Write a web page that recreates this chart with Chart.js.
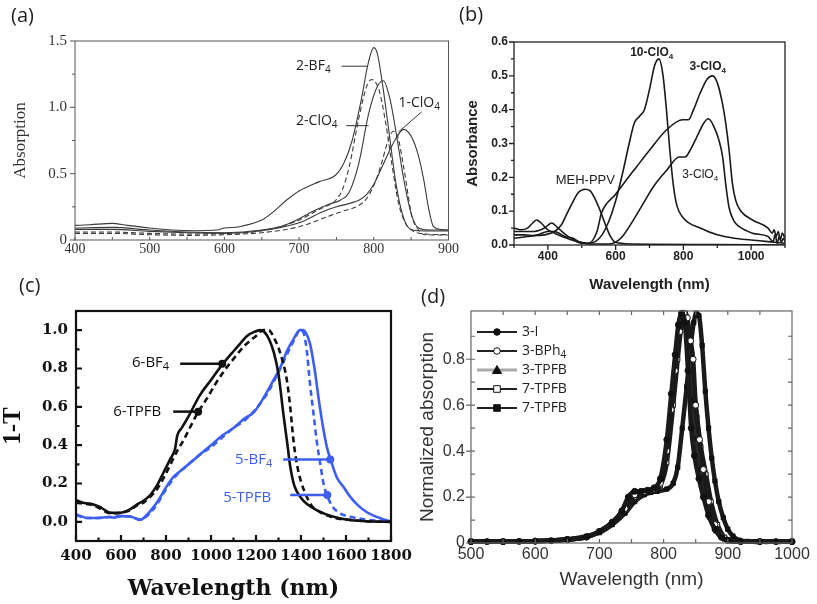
<!DOCTYPE html>
<html><head><meta charset="utf-8">
<script src="https://cdn.jsdelivr.net/npm/chart.js@4.4.0/dist/chart.umd.min.js"></script>
<style>
html,body{margin:0;padding:0;background:#fff;}
body{width:817px;height:604px;position:relative;overflow:hidden;}
canvas{position:absolute;}
.lbl{position:absolute;font-family:"Open Sans",sans-serif;font-size:20px;color:#222;line-height:1;}
</style></head><body>
<canvas id="ca" width="460" height="275" style="left:0;top:0"></canvas>
<canvas id="cb" width="357" height="300" style="left:460px;top:0"></canvas>
<canvas id="cc" width="420" height="324" style="left:0;top:280px"></canvas>
<canvas id="cd" width="407" height="324" style="left:410px;top:280px"></canvas>
<div class="lbl" style="left:11px;top:5px">(a)</div>
<div class="lbl" style="left:459px;top:4px">(b)</div>
<div class="lbl" style="left:19px;top:275px">(c)</div>
<div class="lbl" style="left:421px;top:286px">(d)</div>
<script>
// ---------------- Panel (a) data ----------------
const aXTicks = [400,500,600,700,800,900];
const aYTicks = [0,0.5,1.0,1.5];
const aYTickLabels = ['0','0.5','1.0','1.5'];
const a_BF4_x = [400,420,450,470,500,530,560,590,600,620,650,665,683,700,727,749,760,771,784,792,800,805,811,820,829,838,847,860,880,900];
const a_BF4_y = [0.11,0.115,0.125,0.11,0.09,0.075,0.07,0.075,0.09,0.10,0.15,0.21,0.30,0.37,0.44,0.49,0.58,0.75,1.08,1.32,1.45,1.40,1.20,0.83,0.45,0.20,0.09,0.07,0.068,0.068];
const a_dash1_x = [400,450,500,550,600,650,700,730,745,752,758,767,780,790,797,807,816,824,833,842,852,870,900];
const a_dash1_y = [0.06,0.06,0.05,0.045,0.05,0.07,0.15,0.24,0.28,0.32,0.38,0.55,0.92,1.15,1.21,1.13,0.88,0.58,0.28,0.13,0.07,0.045,0.04];
const a_ClO4_x = [400,450,500,550,600,650,680,700,720,740,755,767,780,793,805,813,820,824,833,842,851,860,875,900];
const a_ClO4_y = [0.09,0.095,0.075,0.06,0.055,0.075,0.11,0.16,0.22,0.27,0.30,0.36,0.58,0.95,1.16,1.2,1.1,1.0,0.70,0.40,0.18,0.09,0.075,0.075];
const a_dash2_x = [400,450,500,550,600,650,700,740,760,780,790,800,810,818,826,832,840,851,860,868,880,900];
const a_dash2_y = [0.05,0.05,0.04,0.035,0.04,0.055,0.10,0.18,0.22,0.26,0.31,0.41,0.57,0.73,0.82,0.78,0.55,0.18,0.075,0.04,0.038,0.038];
const a_1ClO4_x = [400,450,500,550,600,650,700,730,750,770,780,790,800,811,820,829,840,848,855,860,867,873,880,891,900];
const a_1ClO4_y = [0.08,0.08,0.065,0.055,0.05,0.07,0.13,0.21,0.25,0.28,0.30,0.34,0.42,0.55,0.66,0.76,0.834,0.80,0.72,0.63,0.45,0.25,0.10,0.078,0.075];

// ---------------- Panel (b) data ----------------
const bXTicks = [400,600,800,1000];
const bYTicks = [0,0.1,0.2,0.3,0.4,0.5,0.6];
const bYTickLabels = ['0.0','0.1','0.2','0.3','0.4','0.5','0.6'];
const b_MEH_x = [300,330,360,390,420,440,455,470,490,510,525,540,555,570,585,600,650,700,900,1100];
const b_MEH_y = [0.03,0.03,0.028,0.03,0.04,0.06,0.09,0.12,0.155,0.165,0.16,0.135,0.10,0.06,0.025,0.008,0.003,0.002,0.001,0.0];
const b_10ClO4_x = [300,320,340,355,367,380,400,420,450,480,500,520,540,560,580,600,620,640,655,670,685,700,715,728,740,750,760,770,780,800,850,900,950,1000,1050,1100];
const b_10ClO4_y = [0.05,0.045,0.05,0.065,0.074,0.065,0.045,0.035,0.022,0.012,0.005,0.005,0.01,0.03,0.07,0.13,0.21,0.30,0.36,0.38,0.40,0.46,0.53,0.55,0.50,0.40,0.28,0.18,0.12,0.08,0.05,0.03,0.02,0.015,0.01,0.005];
const b_3ClO4a_x = [300,330,360,390,411,430,460,490,520,545,558,600,630,661,700,750,798,815,830,850,870,886,900,915,925,935,945,955,970,1004,1050,1062,1068,1074,1080,1086,1092,1100];
const b_3ClO4a_y = [0.04,0.04,0.04,0.05,0.065,0.05,0.025,0.01,0.005,0.04,0.094,0.15,0.19,0.23,0.28,0.34,0.37,0.37,0.40,0.45,0.49,0.50,0.48,0.42,0.36,0.28,0.18,0.13,0.10,0.074,0.05,0.035,0.045,0.025,0.04,0.015,0.035,0.02];
const b_3ClO4b_x = [300,340,370,400,420,450,475,490,520,580,600,620,650,680,710,750,788,805,820,840,860,874,890,905,916,925,935,950,965,1004,1050,1065,1071,1077,1083,1089,1095,1100];
const b_3ClO4b_y = [0.02,0.025,0.03,0.04,0.04,0.025,0.02,0.01,0.003,0.003,0.008,0.025,0.07,0.12,0.17,0.22,0.26,0.26,0.28,0.32,0.36,0.373,0.35,0.31,0.26,0.18,0.11,0.07,0.054,0.035,0.025,0.01,0.03,0.005,0.025,0.008,0.02,0.01];

// ---------------- Panel (c) data ----------------
const cXTicks = [400,600,800,1000,1200,1400,1600,1800];
const cYTicks = [0,0.2,0.4,0.6,0.8,1.0];
const cYTickLabels = ['0.0','0.2','0.4','0.6','0.8','1.0'];
const c_6BF4_x = [400,430,460,490,510,530,550,580,610,640,670,700,730,760,790,820,840,850,870,900,950,1000,1050,1100,1130,1160,1190,1219,1250,1280,1300,1322,1340,1352,1370,1397,1430,1471,1545,1600,1693,1800];
const c_6BF4_y = [0.113,0.10,0.095,0.085,0.075,0.06,0.048,0.047,0.05,0.065,0.09,0.11,0.14,0.19,0.26,0.33,0.38,0.45,0.49,0.55,0.66,0.74,0.82,0.89,0.93,0.97,0.99,1.0,0.97,0.88,0.77,0.56,0.40,0.29,0.19,0.13,0.09,0.06,0.026,0.012,0.003,0.0];
const c_6TPFB_x = [400,430,460,490,520,550,580,610,640,670,700,730,760,790,820,850,880,910,944,980,1020,1060,1100,1150,1200,1233,1256,1280,1308,1337,1352,1367,1382,1400,1426,1450,1486,1550,1619,1700,1800];
const c_6TPFB_y = [0.10,0.095,0.09,0.08,0.06,0.045,0.045,0.05,0.06,0.085,0.10,0.13,0.17,0.23,0.30,0.37,0.43,0.50,0.575,0.64,0.72,0.79,0.85,0.92,0.97,1.0,1.0,0.96,0.88,0.74,0.60,0.42,0.30,0.21,0.13,0.08,0.05,0.02,0.01,0.002,0.0];
const c_5BF4_x = [400,420,450,500,540,570,600,640,660,685,710,740,770,800,830,848,880,920,960,1000,1050,1100,1150,1189,1230,1278,1310,1337,1370,1395,1410,1420,1440,1460,1480,1500,1515,1530,1560,1590,1619,1650,1693,1750,1800];
const c_5BF4_y = [0.04,0.03,0.02,0.02,0.025,0.022,0.03,0.028,0.02,0.01,0.03,0.07,0.12,0.18,0.23,0.25,0.28,0.32,0.36,0.40,0.45,0.49,0.54,0.57,0.64,0.74,0.81,0.89,0.96,1.0,1.0,0.99,0.93,0.80,0.63,0.48,0.39,0.33,0.23,0.18,0.13,0.09,0.05,0.02,0.0];
const c_5TPFB_x = [400,450,500,550,600,640,685,710,740,770,800,830,860,900,950,1000,1050,1100,1150,1200,1250,1300,1340,1370,1395,1410,1425,1440,1456,1470,1486,1500,1515,1540,1580,1619,1700,1800];
const c_5TPFB_y = [0.035,0.02,0.02,0.025,0.03,0.028,0.012,0.025,0.06,0.11,0.17,0.22,0.26,0.30,0.35,0.39,0.44,0.49,0.53,0.59,0.67,0.78,0.88,0.95,1.0,0.99,0.90,0.72,0.56,0.42,0.30,0.20,0.14,0.08,0.04,0.026,0.01,0.0];

// ---------------- Panel (d) data ----------------
const dXTicks = [500,600,700,800,900,1000];
const dYTicks = [0,0.2,0.4,0.6,0.8];
const dYTickLabels = ['0','0.2','0.4','0.6','0.8'];
const dNames = ['3-I','3-BPh_4','3-TPFB','7-TPFB','7-TPFB'];
const d_3I_x = [500,525,550,575,600,625,650,680,700,720,735,745,755,765,775,785,795,805,812,818,823,828,833,838,843,848,855,862,870,880,890,900,920,950,975,1000];
const d_3I_y = [0.006,0.006,0.006,0.007,0.008,0.01,0.015,0.026,0.05,0.09,0.14,0.20,0.225,0.225,0.23,0.24,0.28,0.45,0.65,0.82,0.95,1.0,0.96,0.75,0.50,0.38,0.28,0.20,0.12,0.06,0.025,0.012,0.007,0.006,0.006,0.006];
const d_3BPh4_x = [500,550,600,650,680,700,720,740,755,770,785,795,805,812,818,825,832,837,842,846,850,856,862,870,880,890,900,920,950,1000];
const d_3BPh4_y = [0.006,0.006,0.008,0.015,0.026,0.05,0.09,0.15,0.21,0.225,0.235,0.26,0.40,0.58,0.75,0.92,1.0,0.98,0.88,0.80,0.60,0.45,0.32,0.18,0.08,0.03,0.012,0.006,0.006,0.006];
const d_3TPFB_x = [500,550,600,650,680,700,720,740,755,770,785,795,805,812,820,826,830,835,840,845,850,856,864,872,882,895,920,950,1000];
const d_3TPFB_y = [0.006,0.006,0.008,0.015,0.026,0.05,0.09,0.15,0.21,0.225,0.235,0.27,0.42,0.60,0.85,0.98,1.0,0.95,0.80,0.62,0.45,0.32,0.20,0.11,0.05,0.015,0.006,0.006,0.006];
const d_7TPFBo_x = [500,550,600,650,680,700,720,740,755,770,785,795,805,815,822,828,834,840,846,852,858,866,874,884,895,910,950,1000];
const d_7TPFBo_y = [0.006,0.006,0.008,0.015,0.027,0.05,0.088,0.145,0.20,0.22,0.23,0.25,0.35,0.60,0.80,0.95,1.0,0.90,0.70,0.55,0.42,0.30,0.18,0.08,0.025,0.008,0.006,0.006];
const d_7TPFBf_x = [500,525,550,575,600,625,650,680,700,720,740,755,770,780,790,805,815,822,829,836,842,847,851,855,860,865,870,875,880,886,893,900,908,918,930,945,960,980,1000];
const d_7TPFBf_y = [0.006,0.006,0.006,0.007,0.008,0.011,0.016,0.03,0.045,0.08,0.13,0.18,0.21,0.22,0.225,0.235,0.26,0.33,0.50,0.68,0.85,0.96,1.0,0.99,0.86,0.66,0.50,0.37,0.27,0.18,0.11,0.06,0.03,0.012,0.007,0.006,0.006,0.006,0.006];

// ---------------- helpers ----------------
const ser = (xs, ys) => xs.map((x, i) => ({x: x, y: ys[i]}));

function richText(ctx, str, x, y, size, family, weight, color, align) {
  const parts = str.split('_');
  const main = parts[0], sub = parts[1] || '';
  const fMain = (weight || 'normal') + ' ' + size + 'px ' + family;
  const fSub = (weight || 'normal') + ' ' + Math.round(size * 0.7) + 'px ' + family;
  ctx.font = fMain; const w1 = ctx.measureText(main).width;
  ctx.font = fSub; const w2 = ctx.measureText(sub).width;
  let x0 = x;
  if (align === 'right') x0 = x - w1 - w2;
  else if (align === 'center') x0 = x - (w1 + w2) / 2;
  ctx.fillStyle = color; ctx.textBaseline = 'middle'; ctx.textAlign = 'left';
  ctx.font = fMain; ctx.fillText(main, x0, y);
  if (sub) { ctx.font = fSub; ctx.fillText(sub, x0 + w1, y + size * 0.3); }
}

function framePlugin(opts) {
  return {id: 'frame', afterDraw(ch) {
    const ctx = ch.ctx, a = ch.chartArea, sx = ch.scales.x, sy = ch.scales.y;
    ctx.save();
    ctx.strokeStyle = opts.color; ctx.lineWidth = opts.width;
    for (const t of opts.ticks) {
      ctx.beginPath();
      ctx.lineWidth = t.w || opts.width;
      const sc = t.axis === 'x' ? sx : sy;
      for (let v = t.from; v <= t.to + 1e-9; v += t.step) {
        const p = sc.getPixelForValue(v);
        if (t.axis === 'x') {
          const base = t.side === 'top' ? a.top : a.bottom;
          const dir = (t.side === 'top' ? 1 : -1) * (t.inward ? 1 : -1);
          ctx.moveTo(p, base); ctx.lineTo(p, base + dir * t.len);
        } else {
          const base = t.side === 'right' ? a.right : a.left;
          const dir = (t.side === 'right' ? -1 : 1) * (t.inward ? 1 : -1);
          ctx.moveTo(base, p); ctx.lineTo(base + dir * t.len, p);
        }
      }
      ctx.stroke();
    }
    ctx.lineWidth = opts.width;
    ctx.strokeRect(a.left, a.top, a.right - a.left, a.bottom - a.top);
    ctx.restore();
  }};
}

function notesPlugin(list) {
  return {id: 'notes', afterDatasetsDraw(ch) {
    const ctx = ch.ctx, sx = ch.scales.x, sy = ch.scales.y;
    ctx.save();
    for (const n of list) {
      if (n.type === 'line') {
        ctx.strokeStyle = n.color; ctx.lineWidth = n.w; ctx.setLineDash([]);
        ctx.beginPath();
        ctx.moveTo(sx.getPixelForValue(n.x1), sy.getPixelForValue(n.y1));
        ctx.lineTo(sx.getPixelForValue(n.x2), sy.getPixelForValue(n.y2));
        ctx.stroke();
      } else if (n.type === 'dot') {
        ctx.fillStyle = n.color; ctx.beginPath();
        ctx.arc(sx.getPixelForValue(n.x), sy.getPixelForValue(n.y), n.r, 0, Math.PI * 2); ctx.fill();
      } else {
        richText(ctx, n.text, sx.getPixelForValue(n.x), sy.getPixelForValue(n.y), n.size, n.family, n.weight, n.color, n.align || 'left');
      }
    }
    ctx.restore();
  }};
}

function axis(o) {
  return {
    type: 'linear', min: o.min, max: o.max, position: o.position,
    afterBuildTicks: s => { s.ticks = o.ticks.map(v => ({value: v})); },
    afterFit: s => { if (o.position === 'left') s.width = o.size; else s.height = o.size; },
    grid: {display: false, drawTicks: false},
    border: {display: false},
    ticks: {autoSkip: false, maxRotation: 0, padding: o.pad, color: o.color, font: o.font,
      callback: (v, i) => o.labels ? o.labels[i] : String(o.ticks[i])},
    title: o.title ? {display: true, text: o.title, color: o.color, font: o.tfont, padding: o.tpad} : {display: false}
  };
}

function makeChart(id, datasets, pad, xs, ys, plugins) {
  return new Chart(document.getElementById(id), {
    type: 'line',
    data: {datasets: datasets},
    options: {
      responsive: false, animation: false, events: [],
      layout: {padding: pad},
      plugins: {legend: {display: false}, tooltip: {enabled: false}},
      elements: {point: {radius: 0}, line: {cubicInterpolationMode: 'monotone'}},
      scales: {x: xs, y: ys}
    },
    plugins: plugins
  });
}

// ---------------- Panel (a) ----------------
const aLine = (xs, ys, dash) => ({data: ser(xs, ys), borderColor: '#3a3a3a', borderWidth: 1.1, borderDash: dash ? [5, 3] : [], pointRadius: 0});
makeChart('ca', [
  aLine(a_BF4_x, a_BF4_y), aLine(a_dash1_x, a_dash1_y, true), aLine(a_ClO4_x, a_ClO4_y),
  aLine(a_dash2_x, a_dash2_y, true), aLine(a_1ClO4_x, a_1ClO4_y)
], {left: 0, top: 41, right: 9, bottom: 0},
  axis({min: 400, max: 900, position: 'bottom', ticks: aXTicks, size: 35, pad: 1, color: '#333',
    font: {family: '"Liberation Serif", serif', size: 14}}),
  axis({min: 0, max: 1.5, position: 'left', ticks: aYTicks, labels: aYTickLabels, size: 75, pad: 8, color: '#333',
    font: {family: '"Liberation Serif", serif', size: 15},
    title: 'Absorption', tfont: {family: '"Liberation Serif", serif', size: 17, lineHeight: 1.2}, tpad: {top: 10, bottom: 0}}),
  [framePlugin({color: '#555', width: 1, ticks: [
    {axis: 'y', side: 'left', inward: false, from: 0, to: 1.5, step: 0.5, len: 5},
    {axis: 'y', side: 'left', inward: false, from: 0.25, to: 1.25, step: 0.5, len: 3},
    {axis: 'x', side: 'bottom', inward: true, from: 400, to: 900, step: 50, len: 3}]}),
   notesPlugin([
    {type: 'text', text: '2-BF_4', x: 696, y: 1.31, size: 14, family: '"Open Sans", sans-serif', color: '#222'},
    {type: 'line', x1: 757, y1: 1.31, x2: 791, y2: 1.31, color: '#333', w: 1},
    {type: 'text', text: '2-ClO_4', x: 696, y: 0.90, size: 14, family: '"Open Sans", sans-serif', color: '#222'},
    {type: 'line', x1: 763, y1: 0.862, x2: 793, y2: 0.862, color: '#333', w: 1},
    {type: 'text', text: '1-ClO_4', x: 833, y: 1.03, size: 14, family: '"Open Sans", sans-serif', color: '#222'},
    {type: 'line', x1: 864, y1: 0.965, x2: 833, y2: 0.814, color: '#333', w: 1}
   ])]);

// ---------------- Panel (b) ----------------
const bLine = (xs, ys) => ({data: ser(xs, ys), borderColor: '#1a1a1a', borderWidth: 1.6, pointRadius: 0});
makeChart('cb', [
  bLine(b_MEH_x, b_MEH_y), bLine(b_10ClO4_x, b_10ClO4_y), bLine(b_3ClO4a_x, b_3ClO4a_y), bLine(b_3ClO4b_x, b_3ClO4b_y)
], {left: 0, top: 42, right: 32, bottom: 0},
  axis({min: 300, max: 1100, position: 'bottom', ticks: bXTicks, size: 55, pad: 4.5, color: '#222',
    font: {family: '"Liberation Sans", Arial, sans-serif', size: 12, weight: 'bold'},
    title: 'Wavelength (nm)', tfont: {family: '"Liberation Sans", Arial, sans-serif', size: 15, weight: 'bold', lineHeight: 1.2}, tpad: {top: 0, bottom: 6}}),
  axis({min: 0, max: 0.6, position: 'left', ticks: bYTicks, labels: bYTickLabels, size: 54, pad: 6, color: '#222',
    font: {family: '"Liberation Sans", Arial, sans-serif', size: 12, weight: 'bold'},
    title: 'Absorbance', tfont: {family: '"Liberation Sans", Arial, sans-serif', size: 15, weight: 'bold', lineHeight: 1.2}, tpad: {top: 4, bottom: 0}}),
  [framePlugin({color: '#222', width: 1.3, ticks: [
    {axis: 'y', side: 'left', inward: false, from: 0, to: 0.6, step: 0.1, len: 5},
    {axis: 'y', side: 'left', inward: false, from: 0.05, to: 0.55, step: 0.1, len: 3},
    {axis: 'x', side: 'bottom', inward: false, from: 400, to: 1000, step: 200, len: 5},
    {axis: 'x', side: 'bottom', inward: false, from: 300, to: 1100, step: 200, len: 3}]}),
   notesPlugin([
    {type: 'text', text: '10-ClO_4', x: 643, y: 0.567, size: 12, weight: 'bold', family: '"Liberation Sans", Arial, sans-serif', color: '#222'},
    {type: 'text', text: '3-ClO_4', x: 818, y: 0.527, size: 12, weight: 'bold', family: '"Liberation Sans", Arial, sans-serif', color: '#222'},
    {type: 'text', text: 'MEH-PPV', x: 423, y: 0.192, size: 13, family: '"Liberation Sans", Arial, sans-serif', color: '#222'},
    {type: 'text', text: '3-ClO_4', x: 797, y: 0.207, size: 12, family: '"Liberation Sans", Arial, sans-serif', color: '#222'}
   ])]);

// ---------------- Panel (c) ----------------
const BLUE = '#3d5ef0';
const cLine = (xs, ys, col, dash) => ({data: ser(xs, ys), borderColor: col, borderWidth: 2.6, borderDash: dash ? [6, 4] : [], pointRadius: 0});
makeChart('cc', [
  cLine(c_6BF4_x, c_6BF4_y, '#111'), cLine(c_6TPFB_x, c_6TPFB_y, '#111', true),
  cLine(c_5BF4_x, c_5BF4_y, BLUE), cLine(c_5TPFB_x, c_5TPFB_y, BLUE, true)
], {left: 0, top: 31, right: 29, bottom: 0},
  axis({min: 400, max: 1800, position: 'bottom', ticks: cXTicks, size: 63, pad: 6, color: '#111',
    font: {family: '"DejaVu Serif", serif', size: 15, weight: 'bold'},
    title: 'Wavelength (nm)', tfont: {family: '"DejaVu Serif", serif', size: 22, weight: 'bold', lineHeight: 1.2}, tpad: {top: 0, bottom: 2}}),
  axis({min: -0.1, max: 1.1, position: 'left', ticks: cYTicks, labels: cYTickLabels, size: 76, pad: 8, color: '#111',
    font: {family: '"DejaVu Serif", serif', size: 15, weight: 'bold'},
    title: '1-T', tfont: {family: '"Liberation Serif", serif', size: 25, weight: 'bold', lineHeight: 1}, tpad: {top: 1, bottom: 0}}),
  [framePlugin({color: '#111', width: 2.2, ticks: [
    {axis: 'y', side: 'left', inward: true, from: 0, to: 1.0, step: 0.2, len: 6},
    {axis: 'y', side: 'left', inward: true, from: 0.1, to: 0.9, step: 0.2, len: 3.5},
    {axis: 'x', side: 'bottom', inward: true, from: 400, to: 1800, step: 200, len: 6},
    {axis: 'x', side: 'bottom', inward: true, from: 500, to: 1700, step: 200, len: 3.5}]}),
   notesPlugin([
    {type: 'text', text: '6-BF_4', x: 649, y: 0.83, size: 15, family: '"Open Sans", sans-serif', color: '#111'},
    {type: 'line', x1: 863, y1: 0.825, x2: 1050, y2: 0.825, color: '#111', w: 2.5},
    {type: 'dot', x: 1050, y: 0.825, r: 4, color: '#111'},
    {type: 'text', text: '6-TPFB', x: 565, y: 0.575, size: 15, family: '"Open Sans", sans-serif', color: '#111'},
    {type: 'line', x1: 832, y1: 0.575, x2: 943, y2: 0.575, color: '#111', w: 2.5},
    {type: 'dot', x: 943, y: 0.575, r: 4, color: '#111'},
    {type: 'text', text: '5-BF_4', x: 1107, y: 0.325, size: 15, family: '"Open Sans", sans-serif', color: BLUE},
    {type: 'line', x1: 1321, y1: 0.325, x2: 1530, y2: 0.325, color: BLUE, w: 2.5},
    {type: 'dot', x: 1530, y: 0.325, r: 4, color: BLUE},
    {type: 'text', text: '5-TPFB', x: 1054, y: 0.125, size: 15, family: '"Open Sans", sans-serif', color: BLUE},
    {type: 'line', x1: 1352, y1: 0.14, x2: 1517, y2: 0.14, color: BLUE, w: 2.5},
    {type: 'dot', x: 1517, y: 0.14, r: 4, color: BLUE}
   ])]);

// ---------------- Panel (d) ----------------
const dStyles = [
  {ps: 'circle', fill: '#111', line: '#1a1a1a'},
  {ps: 'circle', fill: '#fff', line: '#1a1a1a'},
  {ps: 'triangle', fill: '#111', line: '#2a2a2a'},
  {ps: 'rect', fill: '#fff', line: '#1a1a1a'},
  {ps: 'rect', fill: '#111', line: '#1a1a1a'}
];
const dSeries = [[d_3I_x, d_3I_y], [d_3BPh4_x, d_3BPh4_y], [d_3TPFB_x, d_3TPFB_y], [d_7TPFBo_x, d_7TPFBo_y], [d_7TPFBf_x, d_7TPFBf_y]];
const dLegend = {id: 'dleg', afterDraw(ch) {
  const ctx = ch.ctx, a = ch.chartArea;
  ctx.save();
  dNames.forEach((nm, i) => {
    const y = a.top + 21 + i * 19;
    const st = dStyles[i];
    ctx.strokeStyle = i === 2 ? '#aaa' : '#222'; ctx.lineWidth = i === 2 ? 3 : 2.2;
    ctx.beginPath(); ctx.moveTo(a.left + 6, y); ctx.lineTo(a.left + 46, y); ctx.stroke();
    const cx = a.left + 26;
    ctx.fillStyle = st.fill; ctx.strokeStyle = '#111'; ctx.lineWidth = 1;
    ctx.beginPath();
    if (st.ps === 'circle') ctx.arc(cx, y, 3.3, 0, Math.PI * 2);
    else if (st.ps === 'rect') ctx.rect(cx - 3.3, y - 3.3, 6.6, 6.6);
    else { ctx.moveTo(cx, y - 4.5); ctx.lineTo(cx + 4.5, y + 3.5); ctx.lineTo(cx - 4.5, y + 3.5); ctx.closePath(); }
    ctx.fill(); ctx.stroke();
    richText(ctx, nm, a.left + 51, y, 14, '"Open Sans", sans-serif', 'normal', '#222', 'left');
  });
  ctx.restore();
}};
makeChart('cd', dSeries.map((s, i) => ({
  data: ser(s[0], s[1]), borderColor: dStyles[i].line, borderWidth: 4.5, clip: 6,
  pointStyle: dStyles[i].ps, pointRadius: 3, pointBackgroundColor: dStyles[i].fill, pointBorderColor: '#111', pointBorderWidth: 1
})), {left: 0, top: 31, right: 25, bottom: 0},
  axis({min: 500, max: 1000, position: 'bottom', ticks: dXTicks, size: 61, pad: 1.5, color: '#333',
    font: {family: '"Liberation Sans", Arial, sans-serif', size: 16},
    title: 'Wavelength (nm)', tfont: {family: '"Liberation Sans", Arial, sans-serif', size: 19, lineHeight: 1.2}, tpad: {top: 0, bottom: 13}}),
  axis({min: 0, max: 1.01, position: 'left', ticks: dYTicks, labels: dYTickLabels, size: 61, pad: 6, color: '#333',
    font: {family: '"Liberation Sans", Arial, sans-serif', size: 16},
    title: 'Normalized absorption', tfont: {family: '"Liberation Sans", Arial, sans-serif', size: 19, lineHeight: 1}, tpad: {top: 8.5, bottom: 0}}),
  [framePlugin({color: '#666', width: 1.2, ticks: [
    {axis: 'y', side: 'left', inward: false, from: 0, to: 0.8, step: 0.2, len: 5},
    {axis: 'y', side: 'left', inward: true, from: 0.1, to: 0.9, step: 0.1, len: 4},
    {axis: 'y', side: 'right', inward: true, from: 0.1, to: 0.9, step: 0.1, len: 4},
    {axis: 'x', side: 'bottom', inward: true, from: 550, to: 950, step: 50, len: 4},
    {axis: 'x', side: 'top', inward: true, from: 550, to: 950, step: 50, len: 4}]}),
   dLegend]);
</script>
</body></html>
